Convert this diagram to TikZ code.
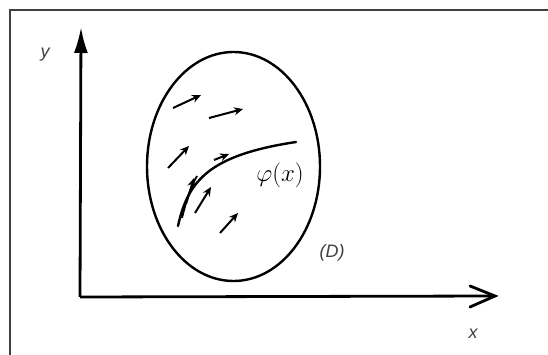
\documentclass[tikz,border=0pt]{standalone}
\usepackage{fontspec}
\setmainfont{Liberation Sans}
\usetikzlibrary{arrows.meta}
\begin{document}
\begin{tikzpicture}[x=1pt,y=-1pt,
  lab/.style={font=\fontsize{18}{20}\selectfont\itshape, text=black!75},
  axis/.style={line width=2.8pt, black},
  small/.style={line width=2pt, -{Stealth[length=9pt,width=8pt]}},
  curve/.style={line width=2.4pt, line cap=round}]
\useasboundingbox (0,0) rectangle (548,355);
\clip (0,0) rectangle (548,355);
\fill[white] (0,0) rectangle (548,355);
% frame
\draw[line width=1.6pt, black!75] (10,10) rectangle (600,400);
% axes
\coordinate (O) at (80,297);
\coordinate (xend) at (495,296);
\coordinate (yend) at (81,27);
\draw[axis] (O) -- (xend);
\draw[axis, line cap=round] (470,286) -- (xend) -- (470,307);
\draw[axis, -{Latex[length=26pt,width=14pt]}] (O) -- (yend);
\node[lab] (ylab) at (45,55) {y};
\node[lab] (xlab) at (473,334) {x};
% region
\draw[line width=2.4pt] (233.5,166.5) ellipse [x radius=86.5, y radius=114.5];
\node[lab] (Dlab) at (332,253) {(D)};
% curve phi
\draw[curve] (178,226) .. controls (188,180) and (210,155) .. (296,142);
\draw[line width=1.8pt] (182,218) .. controls (187,198) and (191,186) .. (197,176);
\draw[small] (214,160) -- (229,154);
\draw[small] (186,204) -- (194,178);
\node[font=\fontsize{24}{26}\selectfont] (phi) at (280,175) {$\varphi(x)$};
% direction field arrows
\draw[small] (173,108) -- (201,95);
\draw[small] (209,118) -- (243,109);
\draw[small] (168,168) -- (189,146);
\draw[small] (195,213) -- (211,187);
\draw[small] (220,233) -- (238,213);
\end{tikzpicture}
\end{document}
